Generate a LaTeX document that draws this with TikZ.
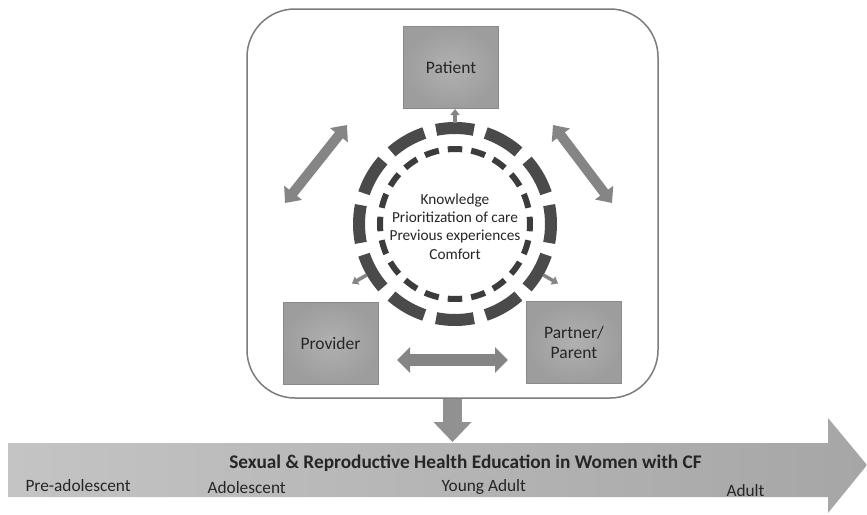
\documentclass[tikz,border=0pt]{standalone}
\usepackage{fontspec}
\setmainfont{Carlito}
\usetikzlibrary{arrows.meta}
\definecolor{boxfill}{HTML}{9D9D9D}
\definecolor{boxline}{HTML}{8A8A8A}
\definecolor{arrowfill}{HTML}{858585}
\definecolor{ringouter}{HTML}{4A4A4A}
\definecolor{ringinner}{HTML}{3C3C3C}
\definecolor{frameline}{HTML}{7C7C7C}
\definecolor{bandleft}{HTML}{C4C4C4}
\definecolor{bandright}{HTML}{A6A6A6}
\begin{document}
\begin{tikzpicture}[x=1pt,y=-1pt,
  party/.style={draw=boxline,line width=1pt,inner color=boxfill!80!white,outer color=boxfill,
    minimum width=95pt,minimum height=82pt,font=\fontsize{17.5}{20}\selectfont,align=center,text=black!85},
  twoway/.style={color=arrowfill,line width=10pt,
    {Triangle[width=22pt,length=13pt]}-{Triangle[width=22pt,length=13pt]}},
  outward/.style={color=arrowfill,line width=3.5pt,-{Triangle[width=9pt,length=6pt]}},
  stage/.style={font=\fontsize{17.3}{20}\selectfont,text=black!85,anchor=base west}]
\useasboundingbox (0,0) rectangle (867,514);
\fill[white] (0,0) rectangle (867,514);

% enclosing frame
\draw[frameline,line width=1.5pt,rounded corners=48pt] (247,9) rectangle (658,398);

% the three parties
\node[party] (patient) at (451,67.5) {Patient};
\node[party] (provider) at (330.5,343) {Provider};
\node[party] (partner) at (574,342.5) {Partner/\\Parent};

% shared factors in the centre
\node[font=\fontsize{15.3}{18.4}\selectfont,align=center,text=black!85] (factors) at (455,226.5)
  {Knowledge\\Prioritization of care\\Previous experiences\\Comfort};
\draw[ringouter,line width=12pt,dash pattern=on 38pt off 12.265pt,dash phase=19pt]
  (455,224) ++(96,0) arc[start angle=0,end angle=-360,radius=96];
\draw[ringinner,line width=6pt,dash pattern=on 14.5pt off 9.06pt,dash phase=7.25pt]
  (455,224) ++(75,0) arc[start angle=0,end angle=-360,radius=75];

% small arrows leaving the ring (y axis points down, so angles are mirrored)
\path (455,224) ++(-90:101) coordinate (r1) ++(-90:14) coordinate (t1);
\path (455,224) ++(150:102) coordinate (r2) ++(150:17) coordinate (t2);
\path (455,224) ++(30:102) coordinate (r3) ++(30:17) coordinate (t3);
\draw[outward] (r1) -- (t1);
\draw[outward] (r2) -- (t2);
\draw[outward] (r3) -- (t3);

% two-way exchanges between the parties
\coordinate (a1) at (347,125);
\coordinate (b1) at (285,203);
\coordinate (a2) at (553,125);
\coordinate (b2) at (612,203);
\draw[twoway] (b1) -- (a1);
\draw[twoway] (a2) -- (b2);
\coordinate (c1) at (397,360);
\coordinate (c2) at (508,360);
\draw[color=arrowfill,line width=12pt,{Triangle[width=25pt,length=13pt]}-{Triangle[width=25pt,length=13pt]}]
  (c1) -- (c2);

% education over the life course
\coordinate (d1) at (452.5,399);
\coordinate (d2) at (452.5,442);
\draw[color=arrowfill!90!white,line width=19pt,-{Triangle[width=37pt,length=20pt]}] (d1) -- (d2);

\shade[left color=bandleft,right color=bandright]
  (8,443) -- (828,443) -- (828,418) -- (867,465) -- (828,513) -- (828,497) -- (8,497) -- cycle;
\node[font=\bfseries\fontsize{19.3}{21}\selectfont,text=black!85,anchor=base] (title) at (465.5,468) {Sexual \& Reproductive Health Education in Women with CF};
\node[stage] (s1) at (22,491) {Pre-adolescent};
\node[stage] (s2) at (204,493) {Adolescent};
\node[stage] (s3) at (438,491) {Young Adult};
\node[stage] (s4) at (723,496) {Adult};
\end{tikzpicture}
\end{document}
